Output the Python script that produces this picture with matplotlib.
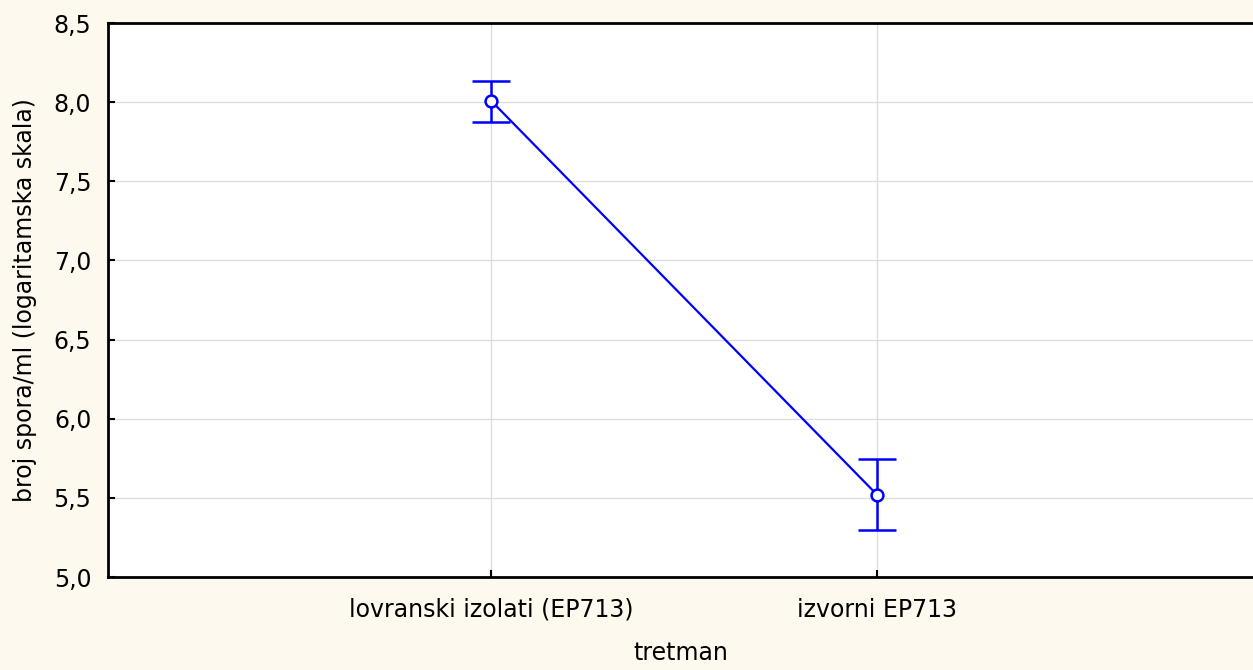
import matplotlib
matplotlib.use("Agg")
import matplotlib.pyplot as plt
from matplotlib.ticker import FuncFormatter

categories = ["lovranski izolati (EP713)", "izvorni EP713"]
means = [8.01, 5.52]
upper = [8.135, 5.745]
lower = [7.875, 5.297]
yticks = [5.0, 5.5, 6.0, 6.5, 7.0, 7.5, 8.0, 8.5]

plt.rcParams['font.family'] = ['DejaVu Sans']

W, H = 1253, 670
fig = plt.figure(figsize=(W / 100, H / 100), dpi=100)
fig.patch.set_facecolor('#FEF9EE')
ax = fig.add_axes([108 / W, 1 - 577 / H, 1 - 108 / W, (577 - 23) / H])
ax.set_facecolor('white')

x = [1, 2]
yerr = [[m - l for m, l in zip(means, lower)], [u - m for m, u in zip(means, upper)]]
ax.plot(x, means, color='#0000FF', lw=1.6, zorder=3)
ax.errorbar(x, means, yerr=yerr, fmt='o', color='#0000FF', mfc='white', mec='#0000FF',
            ms=8.5, mew=1.8, elinewidth=1.8, capsize=14, capthick=1.8, zorder=4)

ax.set_xlim(0.008, 2.974)
ax.set_ylim(5.0, 8.5)
ax.set_yticks(yticks)
ax.yaxis.set_major_formatter(FuncFormatter(lambda v, p: f"{v:.1f}".replace('.', ',')))
ax.set_xticks(x)
ax.set_xticklabels(categories)
ax.grid(True, color='#dcdcdc', lw=0.9, zorder=0)
ax.set_axisbelow(True)

for s in ['left', 'top', 'bottom']:
    ax.spines[s].set_linewidth(2)
    ax.spines[s].set_color('black')
ax.spines['right'].set_visible(False)

ax.tick_params(direction='in', length=5, width=1.5, colors='black', labelsize=17)
ax.tick_params(axis='y', pad=12)
ax.tick_params(axis='x', pad=15)

ax.set_xlabel('tretman', fontsize=17, labelpad=14)
ax.set_ylabel('broj spora/ml (logaritamska skala)', fontsize=17, labelpad=12)

fig.savefig('out.png', dpi=100, facecolor=fig.get_facecolor())
